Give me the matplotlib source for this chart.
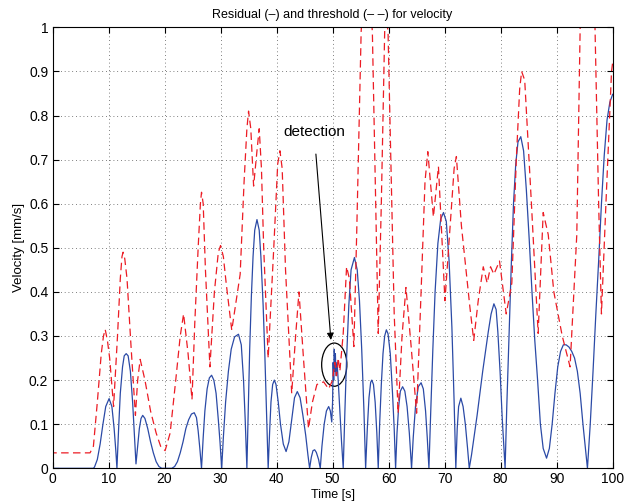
import numpy as np
import matplotlib.pyplot as plt
from matplotlib.patches import Ellipse

plt.rcParams['font.family'] = ['Liberation Sans', 'DejaVu Sans']

# residual (solid blue)
res_t = [0, 7.3, 7.5, 8.0, 8.5, 9.0, 9.5, 10.1, 10.6, 11.0, 11.3, 11.5,
         11.8, 12.1, 12.5, 12.8, 13.15, 13.5, 13.9, 14.3, 14.6, 14.9,
         15.2, 15.5, 15.8, 16.1, 16.5, 17.0, 17.5, 18.0, 18.5, 19.0, 19.5,
         21.3, 21.8, 22.3, 22.8, 23.3, 23.8, 24.3, 24.8, 25.3, 25.7, 26.0, 26.3, 26.6,
         26.9, 27.2, 27.6, 28.0, 28.4, 28.8, 29.2, 29.6, 29.9, 30.2,
         30.5, 30.9, 31.4, 31.9, 32.5, 33.2, 33.7, 34.1, 34.4, 34.7,
         34.95, 35.2, 35.5, 35.8, 36.1, 36.5, 36.9, 37.2, 37.6, 37.9, 38.2, 38.5,
         38.75, 39.0, 39.3, 39.6, 39.9, 40.3, 40.7, 41.2, 41.7, 42.2, 42.7, 43.2, 43.7,
         44.2, 44.7, 45.2, 45.6, 45.9,
         46.2, 46.5, 46.8, 47.1, 47.5, 47.8,
         48.1, 48.5, 48.9, 49.3, 49.6, 49.85,
         50.0, 50.1, 50.2, 50.3, 50.4, 50.5, 50.6, 50.8, 51.0, 51.3, 51.6, 51.9,
         52.2, 52.5, 52.9, 53.3, 53.9, 54.4, 54.8, 55.2, 55.6, 55.9,
         56.2, 56.5, 56.8, 57.0, 57.3, 57.6, 57.9, 58.15,
         58.4, 58.7, 59.0, 59.3, 59.6, 59.9, 60.3, 60.7, 61.0, 61.25,
         61.5, 61.8, 62.1, 62.5, 62.9, 63.3, 63.7, 64.1,
         64.4, 64.8, 65.3, 65.8, 66.2, 66.6, 66.9, 67.2,
         67.5, 67.9, 68.3, 68.8, 69.3, 69.8, 70.3, 70.8, 71.3, 71.7, 72.0,
         72.25, 72.5, 72.9, 73.3, 73.7, 74.1, 74.4,
         74.8, 75.3, 75.8, 76.3, 76.8, 77.3, 77.8, 78.3, 78.8, 79.2, 79.5, 79.9, 80.3, 80.8,
         81.1, 81.5, 81.9, 82.3, 82.7, 83.1, 83.6, 84.1, 84.6, 85.1, 85.6, 86.1, 86.6,
         87.1, 87.6, 88.2, 88.7, 89.2, 89.7, 90.2, 90.7, 91.2, 91.7, 92.2, 92.7, 93.2,
         93.7, 94.2, 94.7, 95.1, 95.5,
         96.0, 96.5, 97.0, 97.5, 98.0, 98.5, 99.0, 99.5, 100]
res_v = [0, 0, 0.003, 0.02, 0.055, 0.1, 0.14, 0.158, 0.14, 0.09, 0.04, 0,
         0.09, 0.17, 0.23, 0.255, 0.26, 0.255, 0.22, 0.15, 0.08, 0.01,
         0.05, 0.09, 0.113, 0.12, 0.113, 0.09, 0.06, 0.035, 0.015, 0.004, 0,
         0, 0.004, 0.015, 0.035, 0.06, 0.09, 0.11, 0.123, 0.126, 0.115, 0.085, 0.045, 0,
         0.07, 0.13, 0.18, 0.205, 0.211, 0.2, 0.17, 0.11, 0.06, 0,
         0.07, 0.15, 0.22, 0.27, 0.298, 0.304, 0.28, 0.2, 0.11, 0,
         0.14, 0.27, 0.39, 0.48, 0.54, 0.564, 0.54, 0.48, 0.37, 0.26, 0.13, 0,
         0.08, 0.15, 0.19, 0.2, 0.19, 0.15, 0.1, 0.055, 0.038, 0.06, 0.11, 0.16, 0.174,
         0.16, 0.12, 0.075, 0.03, 0,
         0.025, 0.04, 0.042, 0.036, 0.02, 0,
         0.05, 0.1, 0.13, 0.14, 0.13, 0.105,
         0.15, 0.24, 0.2, 0.27, 0.22, 0.26, 0.21, 0.24, 0.2, 0.13, 0.06, 0,
         0.13, 0.25, 0.37, 0.45, 0.478, 0.45, 0.38, 0.27, 0.13, 0,
         0.09, 0.16, 0.195, 0.2, 0.19, 0.15, 0.08, 0,
         0.1, 0.19, 0.26, 0.3, 0.314, 0.305, 0.26, 0.17, 0.09, 0,
         0.08, 0.14, 0.175, 0.185, 0.175, 0.14, 0.08, 0,
         0.07, 0.14, 0.185, 0.194, 0.18, 0.13, 0.07, 0,
         0.12, 0.27, 0.4, 0.51, 0.565, 0.58, 0.56, 0.47, 0.32, 0.15, 0,
         0.09, 0.14, 0.159, 0.14, 0.1, 0.045, 0,
         0.03, 0.075, 0.12, 0.17, 0.22, 0.265, 0.31, 0.35, 0.373, 0.36, 0.31, 0.22, 0.11, 0,
         0.14, 0.3, 0.46, 0.6, 0.69, 0.74, 0.752, 0.72, 0.63, 0.52, 0.4, 0.29, 0.2,
         0.1, 0.045, 0.023, 0.045, 0.1, 0.17, 0.23, 0.265, 0.28, 0.28, 0.275, 0.265, 0.25,
         0.22, 0.17, 0.1, 0.05, 0,
         0.1, 0.22, 0.35, 0.47, 0.6, 0.71, 0.79, 0.83, 0.848]

# threshold (dashed red)
thr_t = [0, 0.05, 6.7, 7.3, 8.0, 8.7, 9.1, 9.4, 9.8, 10.2, 10.9, 11.6, 12.1, 12.4, 12.6,
         12.9, 13.3, 14.0, 14.8, 15.2, 15.65, 16.5, 17.5, 18.5, 19.3, 20.1, 21.0, 22.0,
         22.8, 23.4, 24.2, 24.9, 25.4, 26.0, 26.4, 26.6, 26.9, 27.3, 28.1, 28.9, 29.6,
         30.0, 30.5, 31.0, 32.0, 32.8, 33.5, 34.2, 34.7, 35.0, 35.4, 35.9, 36.5, 36.9,
         37.3, 37.7, 38.5, 39.5, 40.2, 40.6, 41.0, 41.6, 42.7, 43.4, 44.0, 44.8, 45.7,
         46.4, 47.2, 48.4, 49.3, 50.0, 50.4, 50.7, 51.0, 51.3, 51.9, 52.5, 53.0, 53.8,
         54.3, 55.1, 55.6, 56.5, 57.1, 57.7, 58.15, 58.7, 59.3, 59.6, 59.9, 60.4, 61.0,
         61.7, 62.4, 63.1, 64.0, 65.0, 65.8, 66.5, 67.0, 68.0, 68.9, 70.06, 71.0, 71.7,
         72.1, 73.0, 74.5, 75.2, 76.0, 76.9, 77.6, 78.2, 78.8, 79.8, 81.0, 82.0, 82.8,
         83.4, 83.75, 84.3, 85.5, 86.7, 87.6, 88.5, 89.5, 91.0, 92.4, 93.6, 94.2, 94.8,
         96.3, 96.85, 97.5, 98.0, 98.8, 99.8, 100]
thr_v = [0, 0.035, 0.035, 0.05, 0.15, 0.26, 0.3, 0.315, 0.29, 0.25, 0.14, 0.3, 0.43, 0.48, 0.49,
         0.475, 0.43, 0.28, 0.12, 0.2, 0.247, 0.2, 0.13, 0.08, 0.05, 0.04, 0.08, 0.2,
         0.3, 0.35, 0.26, 0.156, 0.33, 0.5, 0.6, 0.626, 0.6, 0.45, 0.23, 0.4, 0.49,
         0.505, 0.48, 0.42, 0.313, 0.38, 0.44, 0.65, 0.77, 0.81, 0.77, 0.64, 0.72, 0.77,
         0.68, 0.5, 0.25, 0.5, 0.69, 0.72, 0.68, 0.45, 0.17, 0.3, 0.4, 0.25, 0.09,
         0.15, 0.19, 0.196, 0.18, 0.2, 0.24, 0.21, 0.25, 0.22, 0.306, 0.457, 0.43, 0.276,
         0.53, 0.99, 1.1, 1.1, 0.99, 0.6, 0.306, 0.6, 0.99, 1.02, 0.99, 0.7, 0.35,
         0.125, 0.3, 0.41, 0.28, 0.125, 0.4, 0.65, 0.718, 0.57, 0.684, 0.38, 0.55, 0.68,
         0.707, 0.55, 0.367, 0.29, 0.38, 0.457, 0.42, 0.457, 0.44, 0.47, 0.35, 0.42, 0.7,
         0.86, 0.9, 0.88, 0.6, 0.306, 0.58, 0.53, 0.4, 0.3, 0.23, 0.53, 1.0, 1.2,
         1.2, 1.0, 0.6, 0.35, 0.6, 0.9, 0.92]

xticks = list(range(0, 101, 10))
yticks = [0, 0.1, 0.2, 0.3, 0.4, 0.5, 0.6, 0.7, 0.8, 0.9, 1]
ytick_labels = ['0', '0.1', '0.2', '0.3', '0.4', '0.5', '0.6', '0.7', '0.8', '0.9', '1']

fig = plt.figure(figsize=(6.29, 5.03), dpi=100)
ax = fig.add_axes([0.0835, 0.069, 0.8905, 0.8767])

ax.plot(res_t, res_v, color='#2b4aa6', lw=0.9)
ax.plot(thr_t, thr_v, color='#ec1c24', lw=0.9, dashes=(6, 3.5))

ax.set_xlim(0, 100)
ax.set_ylim(0, 1)
ax.set_xticks(xticks)
ax.set_yticks(yticks)
ax.set_yticklabels(ytick_labels)
ax.tick_params(direction='in', top=True, right=True, labelsize=10, length=4, pad=3)
ax.grid(True, linestyle=(0, (1, 3.5)), color='#555555', lw=0.6)
for s in ax.spines.values():
    s.set_linewidth(0.8)

ax.set_title('Residual (\u2013) and threshold (\u2013 \u2013) for velocity', fontsize=9, pad=7)
ax.set_xlabel('Time [s]', fontsize=9, labelpad=2)
ax.set_ylabel('Velocity [mm/s]', fontsize=9.5, labelpad=3)

# detection marker
ax.add_patch(Ellipse((50.3, 0.235), 4.5, 0.098, fill=False, ec='black', lw=0.9))
ax.annotate('detection', xy=(49.7, 0.291), xytext=(46.7, 0.763),
            fontsize=11, ha='center', va='center',
            arrowprops=dict(arrowstyle='-|>', color='black', lw=0.8,
                            shrinkA=9, shrinkB=0, mutation_scale=10))

fig.savefig('out.png', dpi=100)
